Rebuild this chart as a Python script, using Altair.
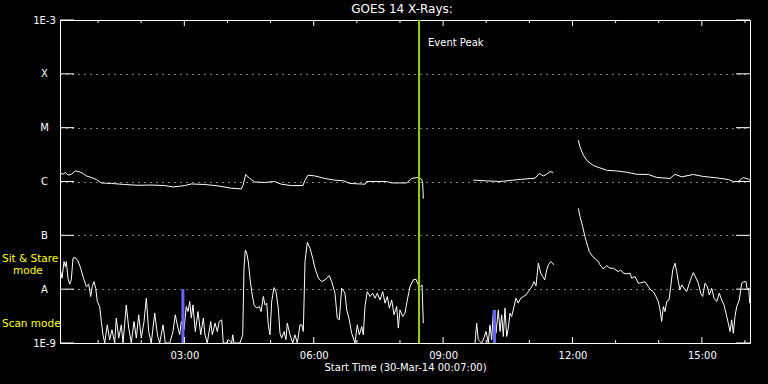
import altair as alt
import pandas as pd

# ---------------- data ----------------
chart_title = "GOES 14 X-Rays:"
x_title = "Start Time (30-Mar-14 00:07:00)"
t_start, t_end = 7, 967            # minutes after 00:00 on 30-Mar-14

level_values = [1e-9, 1e-8, 1e-7, 1e-6, 1e-5, 1e-4, 1e-3]
level_labels = ["1E-9", "A", "B", "C", "M", "X", "1E-3"]
level_exps = [-9, -8, -7, -6, -5, -4, -3]

major_ticks = [180, 360, 540, 720, 900]
major_labels = ["03:00", "06:00", "09:00", "12:00", "15:00"]
minor_ticks = [60, 120, 240, 300, 420, 480, 600, 660, 780, 840, 960]

event_peak = 506.5
event_label = "Event Peak"
scan_times = [178, 611.5]
scan_tops = [1e-8, 4.1e-9]

# long channel (1-8 A), three segments separated by data gaps
upper_1 = [(7.0, 1.45e-6), (11.2, 1.36e-6), (14.4, 1.47e-6), (18.1, 1.31e-6), (22.7, 1.36e-6),
           (28.3, 1.57e-6), (33.0, 1.53e-6), (37.6, 1.45e-6), (43.6, 1.27e-6), (50.5, 1.19e-6),
           (57.5, 1.09e-6), (64.5, 9.4e-7), (78.4, 9.2e-7), (97.0, 8.8e-7), (115.5, 8.5e-7),
           (134.0, 8.6e-7), (152.7, 8.4e-7), (164.2, 7.9e-7), (180.5, 8.4e-7), (189.7, 9.0e-7),
           (208.3, 8.8e-7), (226.8, 8.3e-7), (245.3, 7.5e-7), (259.2, 7.3e-7), (261.6, 8.5e-7),
           (265.4, 1.35e-6), (270.9, 1.14e-6), (277.9, 9.8e-7), (291.8, 9.6e-7), (305.7, 1.0e-6),
           (314.9, 8.9e-7), (328.8, 8.4e-7), (345.1, 8.4e-7), (347.5, 1.03e-6), (352.0, 1.31e-6),
           (361.4, 1.27e-6), (375.3, 1.14e-6), (389.2, 1.06e-6), (401.2, 1.03e-6), (410.5, 9.2e-7),
           (431.3, 8.9e-7), (433.7, 1.0e-6), (461.5, 1.0e-6), (468.5, 9.4e-7), (489.4, 9.4e-7),
           (496.3, 1.14e-6), (505.5, 1.19e-6), (510.2, 1.10e-6), (511.6, 9.2e-7), (512.5, 4.8e-7)]
upper_2 = [(582.0, 1.06e-6), (605.3, 1.02e-6), (619.2, 1.0e-6), (637.7, 1.06e-6), (649.3, 1.10e-6),
           (667.9, 1.15e-6), (673.8, 1.41e-6), (679.4, 1.27e-6), (684.1, 1.36e-6), (688.7, 1.53e-6),
           (693.3, 1.47e-6)]
upper_3 = [(728.1, 5.85e-6), (730.5, 4.39e-6), (735.1, 3.08e-6), (740.6, 2.41e-6), (749.0, 1.98e-6),
           (758.3, 1.79e-6), (767.6, 1.62e-6), (781.5, 1.57e-6), (795.4, 1.49e-6), (809.4, 1.36e-6),
           (825.5, 1.35e-6), (837.2, 1.19e-6), (855.7, 1.14e-6), (862.6, 1.36e-6), (872.0, 1.22e-6),
           (888.1, 1.35e-6), (902.0, 1.24e-6), (920.7, 1.17e-6), (936.8, 1.09e-6), (943.8, 1.0e-6),
           (950.7, 1.0e-6), (957.7, 1.19e-6), (964.7, 1.10e-6), (967.0, 1.06e-6)]

# short channel (0.5-4 A), values at the 1E-9 floor are clipped there
lower_1 = [(8.0, 2.12e-8), (9.8, 1.6e-8), (12.6, 3.25e-8), (14.4, 2.62e-8), (15.8, 3.25e-8),
           (18.1, 1.6e-8), (20.5, 1.24e-8), (22.7, 1.49e-8), (25.1, 3.76e-8), (28.3, 3.87e-8),
           (32.0, 3.35e-8), (35.8, 2.45e-8), (39.0, 1.71e-8), (43.6, 1.12e-8), (46.9, 1.24e-8),
           (49.7, 7.3e-9), (51.9, 1.12e-8), (54.3, 1.38e-8), (56.7, 1.04e-8), (58.9, 5.9e-9),
           (62.2, 4.75e-9), (64.5, 2.51e-9), (66.8, 1.42e-9), (69.2, 1e-9), (72.8, 2.17e-9),
           (76.1, 1.15e-9), (79.3, 1.76e-9), (83.1, 1e-9), (85.3, 2.9e-9), (88.7, 1.23e-9),
           (92.3, 2.17e-9), (94.7, 1e-9), (99.2, 5.1e-9), (102.6, 1.89e-9), (106.2, 1e-9),
           (110.0, 2.51e-9), (113.2, 1.23e-9), (116.5, 3.34e-9), (120.1, 1.23e-9), (123.9, 2.51e-9),
           (127.1, 6.8e-9), (130.4, 1.63e-9), (134.0, 1e-9), (138.8, 3.59e-9), (142.5, 1.42e-9),
           (145.7, 1e-9), (150.3, 2.17e-9), (153.5, 1e-9), (159.6, 1e-9), (164.2, 1.63e-9),
           (167.4, 3.34e-9), (170.2, 2.17e-9), (173.5, 1.42e-9), (175.8, 2.51e-9), (179.5, 1.76e-9),
           (182.7, 4.75e-9), (185.1, 3.84e-9), (187.5, 5.9e-9), (189.7, 2.9e-9), (192.0, 5.1e-9),
           (195.2, 1.63e-9), (199.0, 3.84e-9), (202.8, 1.42e-9), (206.4, 2.9e-9), (208.7, 1.42e-9),
           (211.9, 1e-9), (216.7, 2.51e-9), (218.9, 1.42e-9), (222.7, 2.34e-9), (225.9, 1.63e-9),
           (228.6, 2.51e-9), (232.0, 2.69e-9), (234.2, 1e-9), (238.9, 1e-9), (241.2, 1.15e-9),
           (245.9, 1e-9), (247.3, 1.42e-9), (249.1, 1e-9), (257.4, 1e-9), (261.2, 1.42e-9),
           (263.0, 2.45e-8), (264.8, 5.35e-8), (266.8, 4.66e-8), (269.0, 3.25e-8), (271.3, 1.6e-8),
           (273.7, 9.0e-9), (276.9, 5.1e-9), (280.7, 4.44e-9), (284.3, 4.75e-9), (286.7, 3.84e-9),
           (289.9, 7.3e-9), (292.2, 5.1e-9), (294.6, 5.5e-9), (296.8, 2.17e-9), (299.2, 1.42e-9),
           (301.5, 5.9e-9), (304.7, 1.07e-8), (307.5, 9.0e-9), (310.7, 4.44e-9), (313.1, 1.52e-9),
           (315.4, 1.23e-9), (318.7, 1.63e-9), (321.4, 1.15e-9), (323.2, 2.34e-9), (327.0, 1.42e-9),
           (330.8, 1e-9), (333.9, 1.42e-9), (337.2, 1e-9), (340.9, 2.17e-9), (343.3, 2.17e-9),
           (345.5, 1.63e-9), (347.9, 3.25e-8), (351.1, 7.44e-8), (354.8, 5.77e-8), (358.6, 3.76e-8),
           (361.8, 2.45e-8), (366.4, 1.6e-8), (371.1, 1.38e-8), (375.7, 1.49e-8), (381.7, 1.79e-8),
           (385.0, 1.38e-8), (389.6, 8.4e-9), (392.8, 2.9e-9), (395.6, 2.69e-9), (398.9, 1.04e-8),
           (403.5, 8.4e-9), (405.9, 4.13e-9), (409.5, 2.69e-9), (412.8, 1.52e-9), (417.4, 1e-9),
           (420.6, 2.17e-9), (423.4, 1.42e-9), (426.8, 2.02e-9), (429.0, 1.42e-9), (431.3, 4.75e-9),
           (434.5, 9.0e-9), (438.3, 7.3e-9), (442.1, 8.4e-9), (445.3, 6.8e-9), (448.5, 8.4e-9),
           (452.2, 6.3e-9), (456.0, 9.0e-9), (459.2, 5.5e-9), (462.4, 7.3e-9), (465.2, 4.44e-9),
           (468.5, 6.3e-9), (471.7, 3.34e-9), (475.5, 4.75e-9), (477.7, 1.89e-9), (480.0, 4.13e-9),
           (483.8, 3.1e-9), (487.0, 3.59e-9), (490.2, 6.3e-9), (494.0, 1.12e-8), (498.5, 1.49e-8),
           (502.3, 1.53e-8), (505.5, 1.2e-8), (508.8, 1.12e-8), (510.7, 1.2e-8), (512.5, 2.34e-9)]
lower_2 = [(584.4, 1e-9), (586.7, 2.34e-9), (589.0, 1.15e-9), (593.7, 1e-9), (595.9, 1.15e-9),
           (599.7, 1.63e-9), (602.9, 1e-9), (605.3, 2.17e-9), (607.6, 1.15e-9), (609.9, 3.84e-9),
           (613.6, 1.52e-9), (616.8, 4.13e-9), (619.2, 1.63e-9), (621.5, 3.34e-9), (623.8, 1.32e-9),
           (626.1, 4.44e-9), (628.5, 1.32e-9), (630.7, 1.89e-9), (633.1, 3.59e-9), (635.4, 3.1e-9),
           (638.7, 4.75e-9), (641.4, 6.8e-9), (644.6, 5.5e-9), (648.0, 6.8e-9), (651.6, 7.3e-9),
           (655.3, 7.8e-9), (658.6, 9.0e-9), (661.9, 1.04e-8), (664.7, 1.2e-8), (666.5, 1.38e-8),
           (669.3, 1.15e-8), (672.5, 3.04e-8), (675.8, 1.98e-8), (678.6, 1.71e-8), (681.4, 1.49e-8),
           (684.1, 2.28e-8), (686.4, 2.83e-8), (689.7, 3.25e-8), (692.5, 3.04e-8), (693.9, 2.83e-8)]
lower_3 = [(728.1, 3.18e-7), (730.5, 2.23e-7), (734.2, 1.45e-7), (737.4, 9.46e-8), (740.6, 6.64e-8),
           (743.4, 4.99e-8), (748.1, 4.03e-8), (751.3, 3.76e-8), (755.9, 3.25e-8), (758.3, 2.83e-8),
           (760.6, 2.62e-8), (762.9, 2.36e-8), (767.6, 2.74e-8), (772.2, 2.45e-8), (776.8, 2.45e-8),
           (783.8, 2.12e-8), (787.1, 2.28e-8), (790.7, 1.98e-8), (795.4, 1.92e-8), (800.0, 1.98e-8),
           (802.4, 1.6e-8), (807.0, 1.71e-8), (811.6, 1.29e-8), (816.3, 1.32e-8), (820.9, 1.38e-8),
           (825.5, 1.12e-8), (828.8, 9.7e-9), (832.5, 9.0e-9), (836.2, 7.3e-9), (839.4, 5.9e-9),
           (841.8, 4.13e-9), (844.1, 2.51e-9), (846.4, 4.75e-9), (848.7, 3.84e-9), (851.1, 5.9e-9),
           (854.3, 6.3e-9), (856.7, 1.12e-8), (859.5, 2.28e-8), (862.7, 3.04e-8), (865.0, 2.12e-8),
           (867.3, 1.38e-8), (869.6, 9.7e-9), (872.0, 1.2e-8), (875.2, 1.04e-8), (878.9, 9.0e-9),
           (882.6, 1.29e-8), (885.9, 1.71e-8), (888.1, 2.03e-8), (891.9, 1.6e-8), (895.1, 1.29e-8),
           (898.4, 8.4e-9), (901.2, 7.3e-9), (904.4, 1.29e-8), (907.6, 1.12e-8), (910.4, 7.8e-9),
           (913.7, 1.04e-8), (916.9, 6.8e-9), (920.7, 5.9e-9), (924.3, 8.4e-9), (927.6, 6.3e-9),
           (930.8, 5.1e-9), (933.6, 3.59e-9), (936.8, 2.34e-9), (939.2, 1.63e-9), (941.5, 2.69e-9),
           (943.8, 1.52e-9), (946.1, 3.1e-9), (948.5, 4.75e-9), (952.1, 6.3e-9), (955.4, 1.29e-8),
           (958.6, 1.38e-8), (961.4, 1.38e-8), (963.2, 9.7e-9), (965.2, 1.04e-8), (966.6, 5.5e-9)]

# ---------------- build tables ----------------
def to_frame(segments, name):
    rows = []
    for i, seg in enumerate(segments):
        for t, f in seg:
            rows.append({"t": t, "flux": f, "seg": f"{name}{i}"})
    return pd.DataFrame(rows)

upper_df = to_frame([upper_1, upper_2, upper_3], "u")
lower_df = to_frame([lower_1, lower_2, lower_3], "l")
scan_df = pd.DataFrame({"t": scan_times, "flux": scan_tops})
event_df = pd.DataFrame({"t": [event_peak]})
major_df = pd.DataFrame({"t": major_ticks})
minor_df = pd.DataFrame({"t": minor_ticks})
level_df = pd.DataFrame({"flux": level_values})

FONT = "DejaVu Sans"
WHITE = "white"

y_label_expr = "".join(
    f"round(log(datum.value)/LN10) == {e} ? '{l}' : " for e, l in zip(level_exps, level_labels)
) + "''"
x_label_expr = "".join(
    f"datum.value == {t} ? '{l}' : " for t, l in zip(major_ticks, major_labels)
) + "''"

x_scale = alt.Scale(domain=[t_start, t_end], nice=False, zero=False)
y_scale = alt.Scale(type="log", domain=[1e-9, 1e-3], nice=False)

x_axis = alt.Axis(values=major_ticks, labelExpr=x_label_expr, ticks=False, domain=False, grid=False,
                  labelColor=WHITE, labelFont=FONT, labelFontSize=10, labelPadding=12,
                  labelBaseline="middle", labelFlush=False, labelOverlap=False,
                  title=x_title, titleColor=WHITE, titleFont=FONT, titleFontSize=10,
                  titleFontWeight="normal", titlePadding=2)
y_axis = alt.Axis(values=level_values, labelExpr=y_label_expr, ticks=False, domain=False, grid=True,
                  gridColor=WHITE, gridDash=[1, 5], gridOpacity=1, gridWidth=1,
                  labelColor=WHITE, labelFont=FONT, labelFontSize=10, labelAlign="center",
                  labelBaseline="middle", labelPadding=16, labelFlush=False, labelOverlap=False,
                  title="")


def X(field):
    return alt.X(field, type="quantitative", scale=x_scale, axis=x_axis)


def Y(field):
    return alt.Y(field, type="quantitative", scale=y_scale, axis=y_axis)


def XD(v):
    return alt.XDatum(v, type="quantitative", scale=x_scale, axis=x_axis)


def YD(v):
    return alt.YDatum(v, type="quantitative", scale=y_scale, axis=y_axis)


upper_line = alt.Chart(upper_df).mark_line(color=WHITE, strokeWidth=1, clip=True).encode(
    x=X("t"), y=Y("flux"), detail="seg:N")
lower_line = alt.Chart(lower_df).mark_line(color=WHITE, strokeWidth=1, clip=True).encode(
    x=X("t"), y=Y("flux"), detail="seg:N")

scan_bars = alt.Chart(scan_df).mark_rule(color="#6464ff", strokeWidth=3).encode(
    x=X("t"), y=Y("flux"), y2=alt.datum(1e-9))

event_line = alt.Chart(event_df).mark_rule(color="#99cc00", strokeWidth=2).encode(x=X("t"))
event_text = alt.Chart(event_df).mark_text(
    text=event_label, align="left", baseline="middle", dx=9, color=WHITE, font=FONT, fontSize=10
).encode(x=X("t"), y=alt.value(23))

bot_major = alt.Chart(major_df).mark_rule(color=WHITE, y2Offset=-6).encode(
    x=X("t"), y=YD(1e-9), y2=alt.datum(1e-9))
bot_minor = alt.Chart(minor_df).mark_rule(color=WHITE, y2Offset=-3).encode(
    x=X("t"), y=YD(1e-9), y2=alt.datum(1e-9))
top_major = alt.Chart(major_df).mark_rule(color=WHITE, y2Offset=6).encode(
    x=X("t"), y=YD(1e-3), y2=alt.datum(1e-3))
top_minor = alt.Chart(minor_df).mark_rule(color=WHITE, y2Offset=3).encode(
    x=X("t"), y=YD(1e-3), y2=alt.datum(1e-3))
left_ticks = alt.Chart(level_df).mark_rule(color=WHITE, x2Offset=14).encode(
    y=Y("flux"), x=XD(t_start), x2=alt.datum(t_start))
right_ticks = alt.Chart(level_df).mark_rule(color=WHITE, x2Offset=-14).encode(
    y=Y("flux"), x=XD(t_end), x2=alt.datum(t_end))

dummy = alt.Data(values=[{}])
YELLOW = "#ffff00"
title_text = alt.Chart(dummy).mark_text(
    text=chart_title, align="center", baseline="middle", color=WHITE, font=FONT, fontSize=12
).encode(x=alt.value(342), y=alt.value(-11))
sit_text = alt.Chart(dummy).mark_text(
    text="Sit & Stare", align="left", baseline="middle", color=YELLOW, font=FONT, fontSize=10.5
).encode(x=alt.value(-58), y=alt.value(239))
mode_text = alt.Chart(dummy).mark_text(
    text="mode", align="left", baseline="middle", color=YELLOW, font=FONT, fontSize=10.5
).encode(x=alt.value(-47), y=alt.value(251))
scan_text = alt.Chart(dummy).mark_text(
    text="Scan mode", align="left", baseline="middle", color=YELLOW, font=FONT, fontSize=10.5
).encode(x=alt.value(-58), y=alt.value(304))

chart = alt.layer(
    upper_line, lower_line, scan_bars, event_line, event_text,
    bot_major, bot_minor, top_major, top_minor, left_ticks, right_ticks,
    title_text, sit_text, mode_text, scan_text,
).properties(
    width=690, height=323,
    autosize=alt.AutoSizeParams(type="none"),
    padding={"left": 60, "top": 20, "right": 18, "bottom": 41},
).configure(background="black").configure_view(stroke=WHITE, strokeWidth=1)

chart.save("out.html", embed_options={"renderer": "svg", "actions": False})
